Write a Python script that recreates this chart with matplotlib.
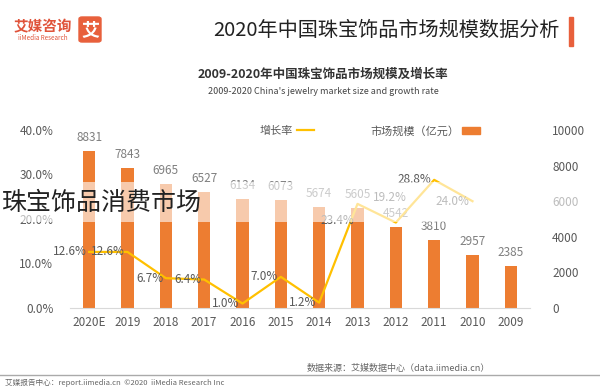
import matplotlib.pyplot as plt
import numpy as np
from matplotlib.patches import Rectangle, FancyBboxPatch
from matplotlib.lines import Line2D

plt.rcParams['font.family'] = ['Noto Sans CJK SC', 'DejaVu Sans']

# data
years = ['2009', '2010', '2011', '2012', '2013', '2014', '2015', '2016',
         '2017', '2018', '2019', '2020E']
market_size = [2385, 2957, 3810, 4542, 5605, 5674, 6073, 6134, 6527, 6965, 7843, 8831]
growth = [None, 24.0, 28.8, 19.2, 23.4, 1.2, 7.0, 1.0, 6.4, 6.7, 12.6, 12.6]
pct_ticks = [0, 10, 20, 30, 40]
size_ticks = [0, 2000, 4000, 6000, 8000, 10000]

ORANGE = '#ED7D31'
YELLOW = '#FFC000'
GREY = '#7F7F7F'
DARK = '#595959'

fig = plt.figure(figsize=(6, 3.9), dpi=100)
ax = fig.add_axes([70 / 600, 1 - 308 / 390, 460 / 600, 178 / 390])
ax2 = ax.twinx()

x = np.arange(len(years))
ax.bar(x, market_size, width=0.32, color=ORANGE, zorder=2)
for xi, v in zip(x, market_size):
    ax.annotate(str(v), (xi, v), xytext=(0, 5), textcoords='offset points',
                ha='center', va='bottom', fontsize=8.5, color=GREY)
ax.set_ylim(0, 10000)
ax.set_xlim(-0.5, len(years) - 0.5)
ax.invert_xaxis()
ax.set_xticks(x)
ax.set_xticklabels(years, fontsize=8.5, color=DARK)
ax.tick_params(axis='both', length=0)
ax.tick_params(axis='x', pad=6)
ax.set_yticks([])
for s in ['top', 'left', 'right']:
    ax.spines[s].set_visible(False)
ax.spines['bottom'].set_color('#D9D9D9')

# growth rate line (percent scale shown on the left)
gx = [xi for xi, g in zip(x, growth) if g is not None]
gy = [g for g in growth if g is not None]
ax2.plot(gx, gy, color=YELLOW, lw=1.6, solid_joinstyle='round', zorder=3)
offsets = {4: (-2, -12), 3: (8, 18)}
for xi, g in zip(gx, gy):
    dx, dy = offsets.get(xi, (-2, 0))
    ax2.annotate(f'{g:.1f}%', (xi, g), xytext=(dx, dy), textcoords='offset points',
                 ha='right', va='center', fontsize=8.5, color=DARK)
ax2.set_ylim(0, 40)
ax2.yaxis.tick_left()
ax2.set_yticks(pct_ticks)
ax2.set_yticklabels([f'{t:.1f}%' for t in pct_ticks], fontsize=8.5, color=DARK)
ax2.tick_params(axis='y', length=0, pad=12)
for s in ax2.spines.values():
    s.set_visible(False)

# market size scale on the right, drawn on a separate axis sharing the bar scale
ax3 = ax.twinx()
ax3.set_ylim(0, 10000)
ax3.set_yticks(size_ticks)
ax3.set_yticklabels([str(t) for t in size_ticks], fontsize=8.5, color=DARK)
ax3.yaxis.tick_right()
ax3.tick_params(axis='y', length=0, pad=16)
for s in ax3.spines.values():
    s.set_visible(False)
ax3.patch.set_visible(False)

# legend
handles = [Line2D([0], [0], color=YELLOW, lw=1.6),
           Rectangle((0, 0), 1, 1, color=ORANGE)]
fig.legend(handles, ['增长率', '市场规模（亿元）'], loc='center',
           bbox_to_anchor=(370 / 600, 1 - 131 / 390), ncol=2, frameon=False,
           markerfirst=False, fontsize=8, labelcolor=DARK, columnspacing=5,
           handlelength=1.6, handletextpad=0.3)

# header
fig.text(560 / 600, 1 - 30 / 390, '2020年中国珠宝饰品市场规模数据分析',
         ha='right', va='center', fontsize=14.5, color='#222222')
fig.add_artist(Rectangle((569 / 600, 1 - 46 / 390), 4 / 600, 29 / 390,
                         color='#E8603C', transform=fig.transFigure))
fig.add_artist(FancyBboxPatch((79 / 600, 1 - 42 / 390), 22 / 600, 25 / 390,
                              boxstyle='round,pad=0,rounding_size=0.005',
                              color='#E8603C', transform=fig.transFigure))
fig.text(90 / 600, 1 - 29.5 / 390, '艾', ha='center', va='center',
         fontsize=13, color='white', weight='bold')
fig.text(43 / 600, 1 - 26 / 390, '艾媒咨询', ha='center', va='center',
         fontsize=10.5, color='#E0533A', weight='bold')
fig.text(43 / 600, 1 - 37.5 / 390, 'iiMedia Research', ha='center', va='center',
         fontsize=4.5, color='#E0533A')

fig.text(323 / 600, 1 - 74 / 390, '2009-2020年中国珠宝饰品市场规模及增长率',
         ha='center', va='center', fontsize=9, weight='bold', color='#333333')
fig.text(323 / 600, 1 - 92 / 390, "2009-2020 China's jewelry market size and growth rate",
         ha='center', va='center', fontsize=6.5, color='#444444')

# footer
fig.text(490 / 600, 1 - 368 / 390, '数据来源：艾媒数据中心（data.iimedia.cn）',
         ha='right', va='center', fontsize=6.5, color='#666666')
fig.add_artist(Line2D([0, 1], [1 - 375 / 390] * 2, color='#AAAAAA', lw=1,
                      transform=fig.transFigure))
fig.text(5 / 600, 1 - 383 / 390,
         '艾媒报告中心：report.iimedia.cn  ©2020  iiMedia Research Inc',
         ha='left', va='center', fontsize=5.5, color='#666666')

# overlay band and caption
fig.add_artist(Rectangle((0, 1 - 222 / 390), 1, 40 / 390, color='white',
                         alpha=0.6, transform=fig.transFigure, zorder=5, lw=0))
fig.text(2 / 600, 1 - 203 / 390, '珠宝饰品消费市场', ha='left', va='center',
         fontsize=18, color='#222222', zorder=6)

fig.savefig('out.png', dpi=100)
